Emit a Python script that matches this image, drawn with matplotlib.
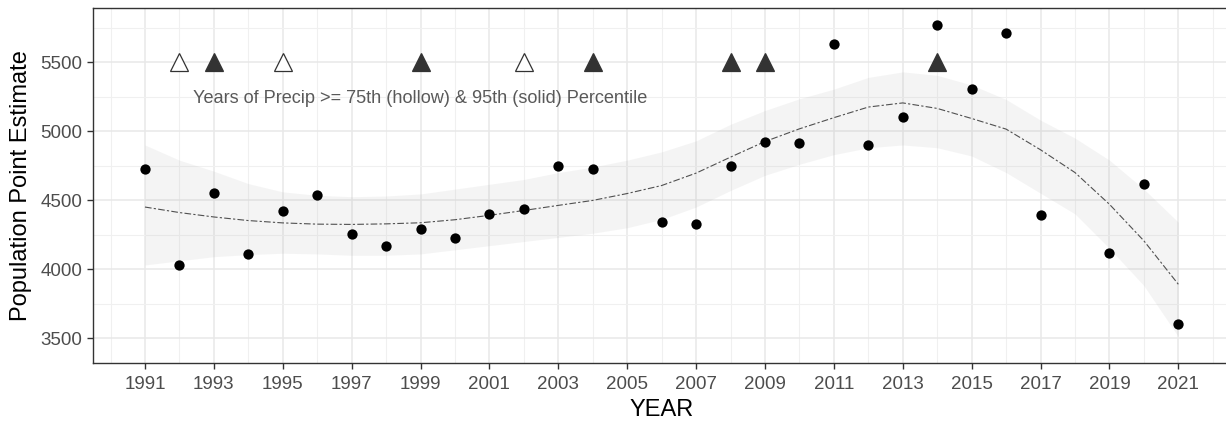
import matplotlib
matplotlib.use("Agg")
import matplotlib.pyplot as plt
from matplotlib.ticker import FixedLocator

plt.rcParams['font.family'] = ['Liberation Sans', 'DejaVu Sans']

# Observed population point estimates
years = [1991, 1992, 1993, 1994, 1995, 1996, 1997, 1998, 1999, 2000,
         2001, 2002, 2003, 2004, 2006, 2007, 2008, 2009, 2010, 2011,
         2012, 2013, 2014, 2015, 2016, 2017, 2019, 2020, 2021]
estimates = [4723, 4027, 4551, 4107, 4420, 4539, 4254, 4164, 4288, 4222,
             4401, 4433, 4749, 4723, 4338, 4326, 4744, 4925, 4916, 5635,
             4899, 5101, 5771, 5304, 5713, 4395, 4114, 4614, 3599]

# Smoothed trend with its confidence band
smooth_years = list(range(1991, 2022))
smooth_fit = [4450, 4410, 4378, 4352, 4335, 4326, 4324, 4328, 4336, 4358,
              4390, 4425, 4462, 4498, 4548, 4606, 4696, 4812, 4925, 5017,
              5098, 5175, 5205, 5165, 5092, 5015, 4865, 4700, 4470, 4205, 3890]
band_upper = [4900, 4790, 4710, 4620, 4560, 4535, 4525, 4530, 4545, 4580,
              4615, 4650, 4700, 4740, 4790, 4850, 4930, 5050, 5150, 5235,
              5305, 5390, 5430, 5405, 5335, 5230, 5080, 4950, 4790, 4580, 4340]
band_lower = [4030, 4060, 4090, 4105, 4115, 4110, 4100, 4100, 4110, 4140,
              4170, 4200, 4230, 4260, 4300, 4360, 4450, 4570, 4680, 4760,
              4830, 4880, 4900, 4880, 4820, 4700, 4550, 4400, 4150, 3880, 3510]

# Precipitation marker years
precip_75_years = [1992, 1995, 2002]
precip_95_years = [1993, 1999, 2004, 2008, 2009, 2014]
marker_level = 5500

annotation = "Years of Precip >= 75th (hollow) & 95th (solid) Percentile"
x_label = "YEAR"
y_label = "Population Point Estimate"
x_ticks = list(range(1991, 2022, 2))
y_ticks = [3500, 4000, 4500, 5000, 5500]

W, H = 1226, 424
fig = plt.figure(figsize=(W / 100, H / 100), dpi=100)
ax = fig.add_axes([93.3 / W, 1 - 363.3 / H, (1230 - 93.3) / W, (363.3 - 8.3) / H])

ax.set_xlim(1989.5, 2022.5)
ax.set_ylim(3317, 5891)

# grid
ax.xaxis.set_major_locator(FixedLocator(x_ticks))
ax.xaxis.set_minor_locator(FixedLocator([y + 1 for y in x_ticks[:-1]] + [1990, 2022]))
ax.yaxis.set_major_locator(FixedLocator(y_ticks))
ax.yaxis.set_minor_locator(FixedLocator([3750, 4250, 4750, 5250, 5750]))
ax.grid(which='major', color='#E8E8E8', linewidth=1.1)
ax.grid(which='minor', color='#F0F0F0', linewidth=0.8)
ax.set_axisbelow(True)

ax.fill_between(smooth_years, band_lower, band_upper, color='#999999', alpha=0.1,
                linewidth=0, zorder=2)
ax.plot(smooth_years, smooth_fit, color='#505050', linewidth=0.8,
        dashes=(6, 2, 2, 2), zorder=3)

ax.scatter(years, estimates, s=55, color='black', zorder=4, linewidths=0)

ax.plot(precip_75_years, [marker_level] * len(precip_75_years), linestyle='none',
        marker='^', markersize=13.5, markerfacecolor='white', markeredgecolor='#333333',
        markeredgewidth=0.9, zorder=4)
ax.plot(precip_95_years, [marker_level] * len(precip_95_years), linestyle='none',
        marker='^', markersize=13.5, markerfacecolor='#333333', markeredgecolor='#333333',
        markeredgewidth=0.9, zorder=4)

ax.text(1999, 5240, annotation, ha='center', va='center', fontsize=13.1, color='#595959')

for s in ax.spines.values():
    s.set_color('#333333')
    s.set_linewidth(1.0)

ax.tick_params(axis='both', which='major', length=4.3, width=1.0, color='#333333',
               labelsize=13.5, labelcolor='#4D4D4D', pad=3.5)
ax.tick_params(axis='x', which='major', pad=5)
ax.tick_params(axis='both', which='minor', length=0)

ax.set_xlabel(x_label, fontsize=17, color='black', labelpad=4)
ax.set_ylabel(y_label, fontsize=17, color='black', labelpad=6)

fig.savefig('out.png', dpi=100)
